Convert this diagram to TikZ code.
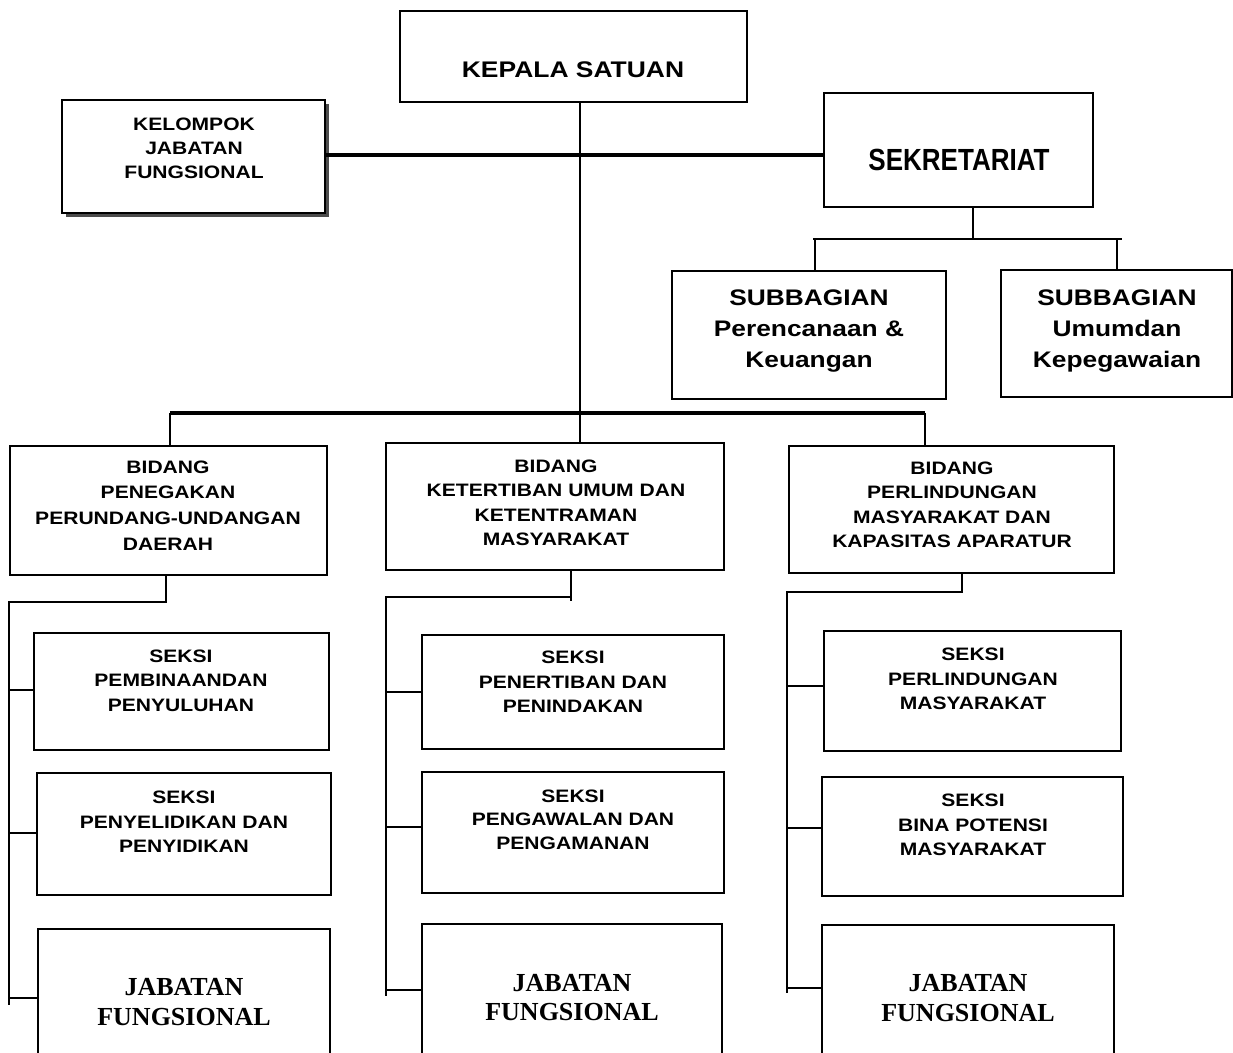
\documentclass[tikz,border=0pt]{standalone}
\usepackage{fontspec}
\newfontfamily\arialW{Liberation Sans}[FakeStretch=1.17]
\newfontfamily\arialN{Liberation Sans}[FakeStretch=0.85]
\newfontfamily\timesB{Liberation Serif}
\usetikzlibrary{calc}
\begin{document}
\begin{tikzpicture}[x=1pt,y=-1pt,
  box/.style={draw=black,fill=white,line width=1.6pt,inner sep=0pt,rectangle},
  conn/.style={draw=black,line width=1.5pt},
  thickline/.style={draw=black,line width=3.6pt},
  lbl/.style={align=center,inner sep=0pt,text=black},
  small/.style={lbl,font=\arialW\bfseries\fontsize{18}{24.5}\selectfont},
  mid/.style={lbl,font=\arialW\bfseries\fontsize{22.5}{31}\selectfont},
  ser/.style={lbl,font=\timesB\bfseries\fontsize{26}{30}\selectfont}]
\clip (0,0) rectangle (1233,1052);
\fill[white] (0,0) rectangle (1233,1052);

% boxes
\node[box,minimum width=347,minimum height=91] (kepala) at (573.5,56.5) {};
\fill[black!70] (66,104) rectangle (329,217);
\node[box,minimum width=263,minimum height=113] (kjf) at (193.5,156.5) {};
\node[box,minimum width=269,minimum height=114] (sek) at (958.5,150) {};
\node[box,minimum width=274,minimum height=128] (sub1) at (809,335) {};
\node[box,minimum width=231,minimum height=127] (sub2) at (1116.5,333.5) {};
\node[box,minimum width=317,minimum height=129] (bid1) at (168.5,510.5) {};
\node[box,minimum width=338,minimum height=127] (bid2) at (555,506.5) {};
\node[box,minimum width=325,minimum height=127] (bid3) at (951.5,509.5) {};
\node[box,minimum width=295,minimum height=117] (s11) at (181.5,691.5) {};
\node[box,minimum width=294,minimum height=122] (s12) at (184,834) {};
\node[box,minimum width=292,minimum height=151] (j1) at (184,1004.5) {};
\node[box,minimum width=302,minimum height=114] (s21) at (573,692) {};
\node[box,minimum width=302,minimum height=121] (s22) at (573,832.5) {};
\node[box,minimum width=300,minimum height=156] (j2) at (572,1002) {};
\node[box,minimum width=297,minimum height=120] (s31) at (972.5,691) {};
\node[box,minimum width=301,minimum height=119] (s32) at (972.5,836.5) {};
\node[box,minimum width=292,minimum height=155] (j3) at (968,1002.5) {};

% texts
\node[lbl,font=\arialW\bfseries\fontsize{22.6}{27}\selectfont] (tkepala) at (573,70) {KEPALA SATUAN};
\node[small,font=\arialW\bfseries\fontsize{18}{24}\selectfont] (tkjf) at (194,148) {KELOMPOK\\JABATAN\\FUNGSIONAL};
\node[lbl,font=\arialN\bfseries\fontsize{30.6}{34}\selectfont] (tsek) at (959,160) {SEKRETARIAT};
\node[mid] (tsub1) at (809,331) {SUBBAGIAN\\Perencanaan \&\\Keuangan};
\node[mid] (tsub2) at (1117,331.5) {SUBBAGIAN\\Umumdan\\Kepegawaian};
\node[small,font=\arialW\bfseries\fontsize{18}{25.7}\selectfont] (tbid1) at (168,505.5) {BIDANG\\PENEGAKAN\\PERUNDANG-UNDANGAN\\DAERAH};
\node[small] (tbid2) at (556,503) {BIDANG\\KETERTIBAN UMUM DAN\\KETENTRAMAN\\MASYARAKAT};
\node[small] (tbid3) at (952,505) {BIDANG\\PERLINDUNGAN\\MASYARAKAT DAN\\KAPASITAS APARATUR};
\node[small] (ts11) at (181,680.5) {SEKSI\\PEMBINAANDAN\\PENYULUHAN};
\node[small] (ts12) at (184,822) {SEKSI\\PENYELIDIKAN DAN\\PENYIDIKAN};
\node[ser] (tj1) at (184,1002.5) {JABATAN\\FUNGSIONAL};
\node[small] (ts21) at (573,682) {SEKSI\\PENERTIBAN DAN\\PENINDAKAN};
\node[small,font=\arialW\bfseries\fontsize{18}{23.5}\selectfont] (ts22) at (573,819.5) {SEKSI\\PENGAWALAN DAN\\PENGAMANAN};
\node[ser,font=\timesB\bfseries\fontsize{26}{29}\selectfont] (tj2) at (572,997.5) {JABATAN\\FUNGSIONAL};
\node[small] (ts31) at (973,679) {SEKSI\\PERLINDUNGAN\\MASYARAKAT};
\node[small] (ts32) at (973,825) {SEKSI\\BINA POTENSI\\MASYARAKAT};
\node[ser,font=\timesB\bfseries\fontsize{26}{30}\selectfont] (tj3) at (968,998) {JABATAN\\FUNGSIONAL};

% top connectors
\coordinate (cx) at (580,0);
\coordinate (ky) at (0,155);
\draw[thickline] (kjf.east |- ky) -- (sek.west |- ky);
\draw[conn] (kepala.south -| cx) -- (bid2.north -| cx);
\coordinate (barL) at (170,413);
\coordinate (barR) at (925,413);
\draw[thickline] (barL) -- (barR);
\draw[conn] (barL) -- (bid1.north -| barL);
\draw[conn] (barR) -- (bid3.north -| barR);

% sekretariat to subbagian
\coordinate (sj) at (973,239);
\coordinate (sL) at (813,239);
\coordinate (sR) at (1122,239);
\draw[conn] (sek.south -| sj) -- (sj);
\draw[conn] (sL) -- (sR);
\draw[conn] (815,239) -- (sub1.north -| 815,0);
\draw[conn] (1117,239) -- (sub2.north -| 1117,0);

% column 1
\coordinate (c1a) at (166,602);
\coordinate (r1t) at (9,602);
\coordinate (r1b) at (9,1005);
\draw[conn] (bid1.south -| c1a) -- (c1a) -- (r1t) -- (r1b);
\draw[conn] (9,690) -- (s11.west |- 0,690);
\draw[conn] (9,833) -- (s12.west |- 0,833);
\draw[conn] (9,998) -- (j1.west |- 0,998);

% column 2
\coordinate (c2a) at (571,597);
\coordinate (r2t) at (386,597);
\coordinate (r2b) at (386,996);
\draw[conn] (bid2.south -| c2a) -- (571,601);
\draw[conn] (c2a) -- (r2t) -- (r2b);
\draw[conn] (386,692) -- (s21.west |- 0,692);
\draw[conn] (386,827) -- (s22.west |- 0,827);
\draw[conn] (386,990) -- (j2.west |- 0,990);

% column 3
\coordinate (c3a) at (962,592);
\coordinate (r3t) at (787,592);
\coordinate (r3b) at (787,993);
\draw[conn] (bid3.south -| c3a) -- (c3a) -- (r3t) -- (r3b);
\draw[conn] (787,686) -- (s31.west |- 0,686);
\draw[conn] (787,828) -- (s32.west |- 0,828);
\draw[conn] (787,988) -- (j3.west |- 0,988);
\end{tikzpicture}
\end{document}
